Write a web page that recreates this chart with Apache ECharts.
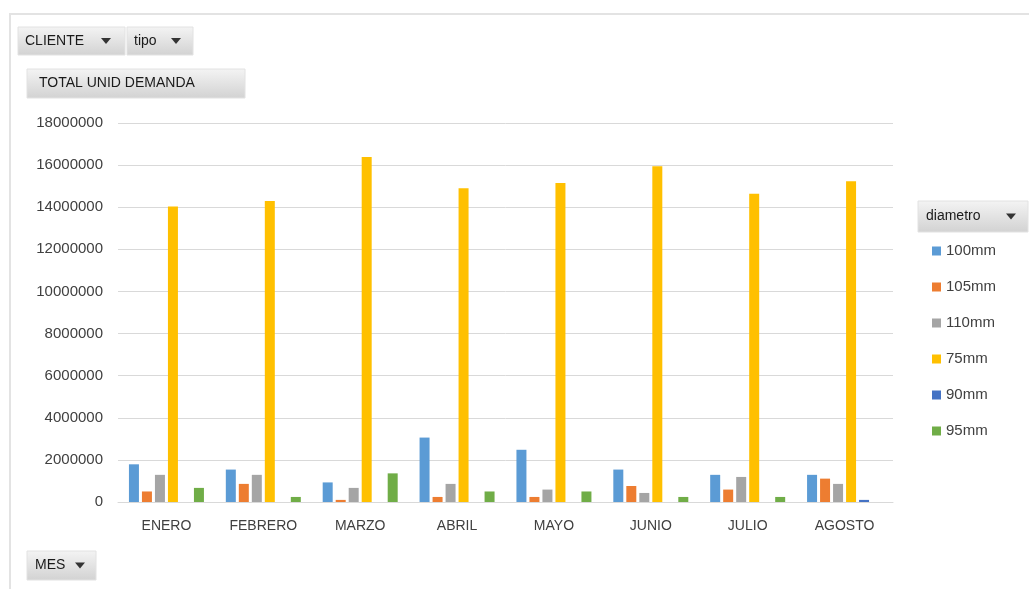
<!DOCTYPE html>
<html>
<head>
<meta charset="utf-8">
<style>
  html, body { margin: 0; padding: 0; background: #fff; }
  #chart { width: 1029px; height: 589px; }
</style>
<script src="https://cdn.jsdelivr.net/npm/echarts@6/dist/echarts.min.js"></script>
</head>
<body>
<div id="chart"></div>
<script>
// Monthly total demand units by pipe diameter
const months = ['ENERO', 'FEBRERO', 'MARZO', 'ABRIL', 'MAYO', 'JUNIO', 'JULIO', 'AGOSTO'];
const d100 = [1790000, 1540000, 930000, 3060000, 2480000, 1540000, 1290000, 1290000];
const d105 = [500000, 860000, 100000, 240000, 240000, 760000, 590000, 1110000];
const d110 = [1290000, 1290000, 670000, 860000, 590000, 430000, 1190000, 860000];
const d75 = [14030000, 14300000, 16380000, 14900000, 15150000, 15950000, 14640000, 15230000];
const d90 = [0, 0, 0, 0, 0, 0, 0, 100000];
const d95 = [670000, 240000, 1360000, 500000, 500000, 240000, 240000, 0];
const yTicks = [0, 2000000, 4000000, 6000000, 8000000, 10000000, 12000000, 14000000, 16000000, 18000000];

const seriesDefs = [
  { name: '100mm', data: d100, color: '#5B9BD5' },
  { name: '105mm', data: d105, color: '#ED7D31' },
  { name: '110mm', data: d110, color: '#A5A5A5' },
  { name: '75mm', data: d75, color: '#FFC000' },
  { name: '90mm', data: d90, color: '#4472C4' },
  { name: '95mm', data: d95, color: '#70AD47' }
];

const FONT = 'Liberation Sans';

// Grey pivot-style field button
function fieldButton(x, y, w, h, label, withArrow, textLeft, arrowX) {
  const children = [
    {
      type: 'rect',
      shape: { x: 0, y: 0, width: w, height: h },
      style: {
        fill: new echarts.graphic.LinearGradient(0, 0, 0, 1, [
          { offset: 0, color: '#f4f4f4' },
          { offset: 1, color: '#d2d2d2' }
        ]),
        stroke: '#e2e2e2',
        lineWidth: 1
      }
    },
    {
      type: 'text',
      style: {
        x: textLeft, y: h / 2, text: label, fill: '#1a1a1a',
        font: '14px "' + FONT + '"', verticalAlign: 'middle', textAlign: 'left'
      }
    }
  ];
  if (withArrow) {
    children.push({
      type: 'polygon',
      shape: { points: [[arrowX, h / 2 - 3], [arrowX + 10, h / 2 - 3], [arrowX + 5, h / 2 + 3]] },
      style: { fill: '#333' }
    });
  }
  return { type: 'group', x: x, y: y, children: children };
}

const chart = echarts.init(document.getElementById('chart'), null, { renderer: 'canvas' });

chart.setOption({
  animation: false,
  backgroundColor: '#fff',
  grid: { left: 118, right: 136, top: 123, bottom: 87, containLabel: false },
  legend: {
    orient: 'vertical',
    left: 927,
    top: 238,
    icon: 'rect',
    itemWidth: 9,
    itemHeight: 9,
    itemGap: 20,
    textStyle: { fontFamily: FONT, fontSize: 15, color: '#404040', lineHeight: 16 },
    data: seriesDefs.map(s => s.name)
  },
  xAxis: {
    type: 'category',
    data: months,
    axisLine: { show: true, lineStyle: { color: '#d9d9d9', width: 1 } },
    axisTick: { show: false },
    axisLabel: { fontFamily: FONT, fontSize: 14, color: '#404040', margin: 17 }
  },
  yAxis: {
    type: 'value',
    min: yTicks[0],
    max: yTicks[yTicks.length - 1],
    interval: yTicks[1] - yTicks[0],
    axisLine: { show: false },
    axisTick: { show: false },
    splitLine: { lineStyle: { color: '#d9d9d9', width: 1 } },
    axisLabel: {
      fontFamily: FONT, fontSize: 15, color: '#404040', margin: 15,
      formatter: v => String(v)
    }
  },
  series: seriesDefs.map(s => ({
    type: 'bar',
    name: s.name,
    data: s.data,
    barWidth: 10,
    barGap: '30%',
    itemStyle: { color: s.color },
    emphasis: { disabled: true }
  })),
  graphic: [
    {
      type: 'rect',
      shape: { x: 10, y: 14, width: 1040, height: 600 },
      style: { fill: 'none', stroke: '#e3e3e3', lineWidth: 2 },
      z: -1
    },
    fieldButton(18, 27, 107, 28, 'CLIENTE', true, 7, 83),
    fieldButton(127, 27, 66, 28, 'tipo', true, 7, 44),
    fieldButton(27, 69, 218, 29, 'TOTAL UNID DEMANDA', false, 12, 0),
    fieldButton(918, 201, 110, 31, 'diametro', true, 8, 88),
    fieldButton(27, 551, 69, 29, 'MES', true, 8, 48)
  ]
});
</script>
</body>
</html>
